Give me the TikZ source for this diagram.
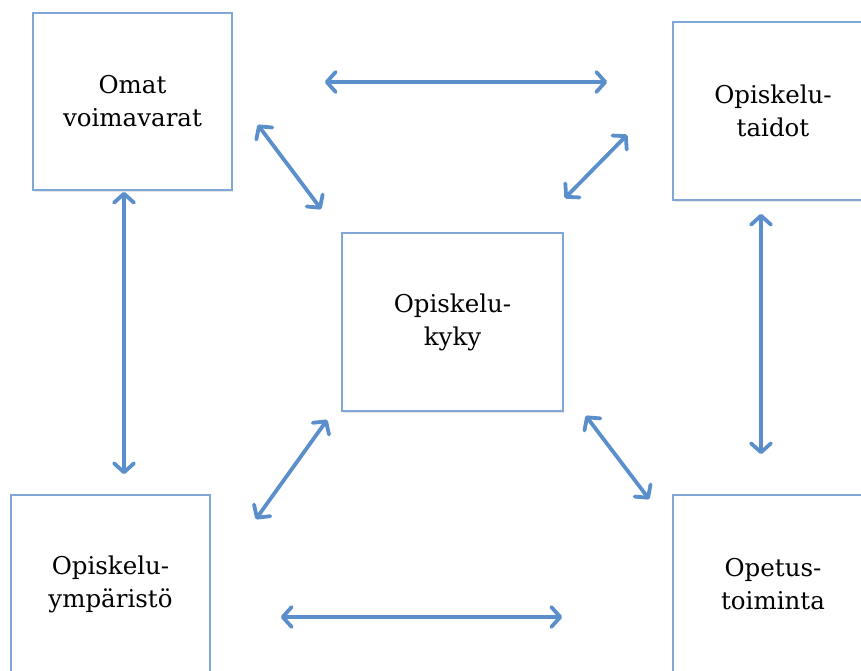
\documentclass[tikz,border=0pt]{standalone}
\usepackage{fontspec}
\setmainfont{DejaVu Serif}
\usetikzlibrary{arrows.meta, shadows}
\definecolor{boxline}{HTML}{7FA7D7}
\definecolor{linkblue}{HTML}{5B8FCB}
\begin{document}
\begin{tikzpicture}[x=1pt,y=-1pt,
  area/.style={draw=boxline, line width=1.6pt, fill=white, inner sep=0pt,
    minimum width=199pt, minimum height=177pt, align=center,
    font=\fontsize{24.5}{33}\selectfont,
    drop shadow={shadow xshift=1pt, shadow yshift=-2pt, opacity=0.2}},
  link/.style={draw=linkblue, line width=3.8pt,
    {Straight Barb[length=9pt,width=20pt,round]}-{Straight Barb[length=9pt,width=20pt,round]}}]
\useasboundingbox (0,0) rectangle (861,671);
\node[area] (omat) at (132.5,101.5) {Omat\\voimavarat};
\node[area, minimum width=200pt, minimum height=178pt] (taidot) at (773,111) {Opiskelu-\\taidot};
\node[area, minimum width=221pt, minimum height=178pt] (kyky) at (452.5,322) {Opiskelu-\\kyky};
\node[area, minimum height=178pt] (ymp) at (110.5,584) {Opiskelu-\\ympäristö};
\node[area, minimum width=200pt, minimum height=178pt] (opetus) at (773,584) {Opetus-\\toiminta};
\draw[link, shorten <=92pt, shorten >=65pt] ([yshift=19.5pt]omat.east) -- ([yshift=29pt]taidot.west);
\draw[link, shorten <=70pt, shorten >=110pt] ([yshift=-33pt]ymp.east) -- ([yshift=-33pt]opetus.west);
\draw[link, shorten <=1pt, shorten >=20pt] ([xshift=-8.5pt]omat.south) -- ([xshift=13.5pt]ymp.north);
\draw[link, shorten <=13pt, shorten >=40pt] ([xshift=-12pt]taidot.south) -- ([xshift=-12pt]opetus.north);
\draw[link] ([shift={(25pt,66pt)}]omat.south east) -- ([shift={(-20pt,23pt)}]kyky.north west);
\draw[link] ([shift={(-45pt,66pt)}]taidot.south west) -- ([shift={(1pt,34pt)}]kyky.north east);
\draw[link] ([shift={(-14pt,-8pt)}]kyky.south west) -- ([shift={(45pt,-25pt)}]ymp.north east);
\draw[link] ([shift={(22pt,-4pt)}]kyky.south east) -- ([shift={(-23pt,-5pt)}]opetus.north west);
\end{tikzpicture}
\end{document}
